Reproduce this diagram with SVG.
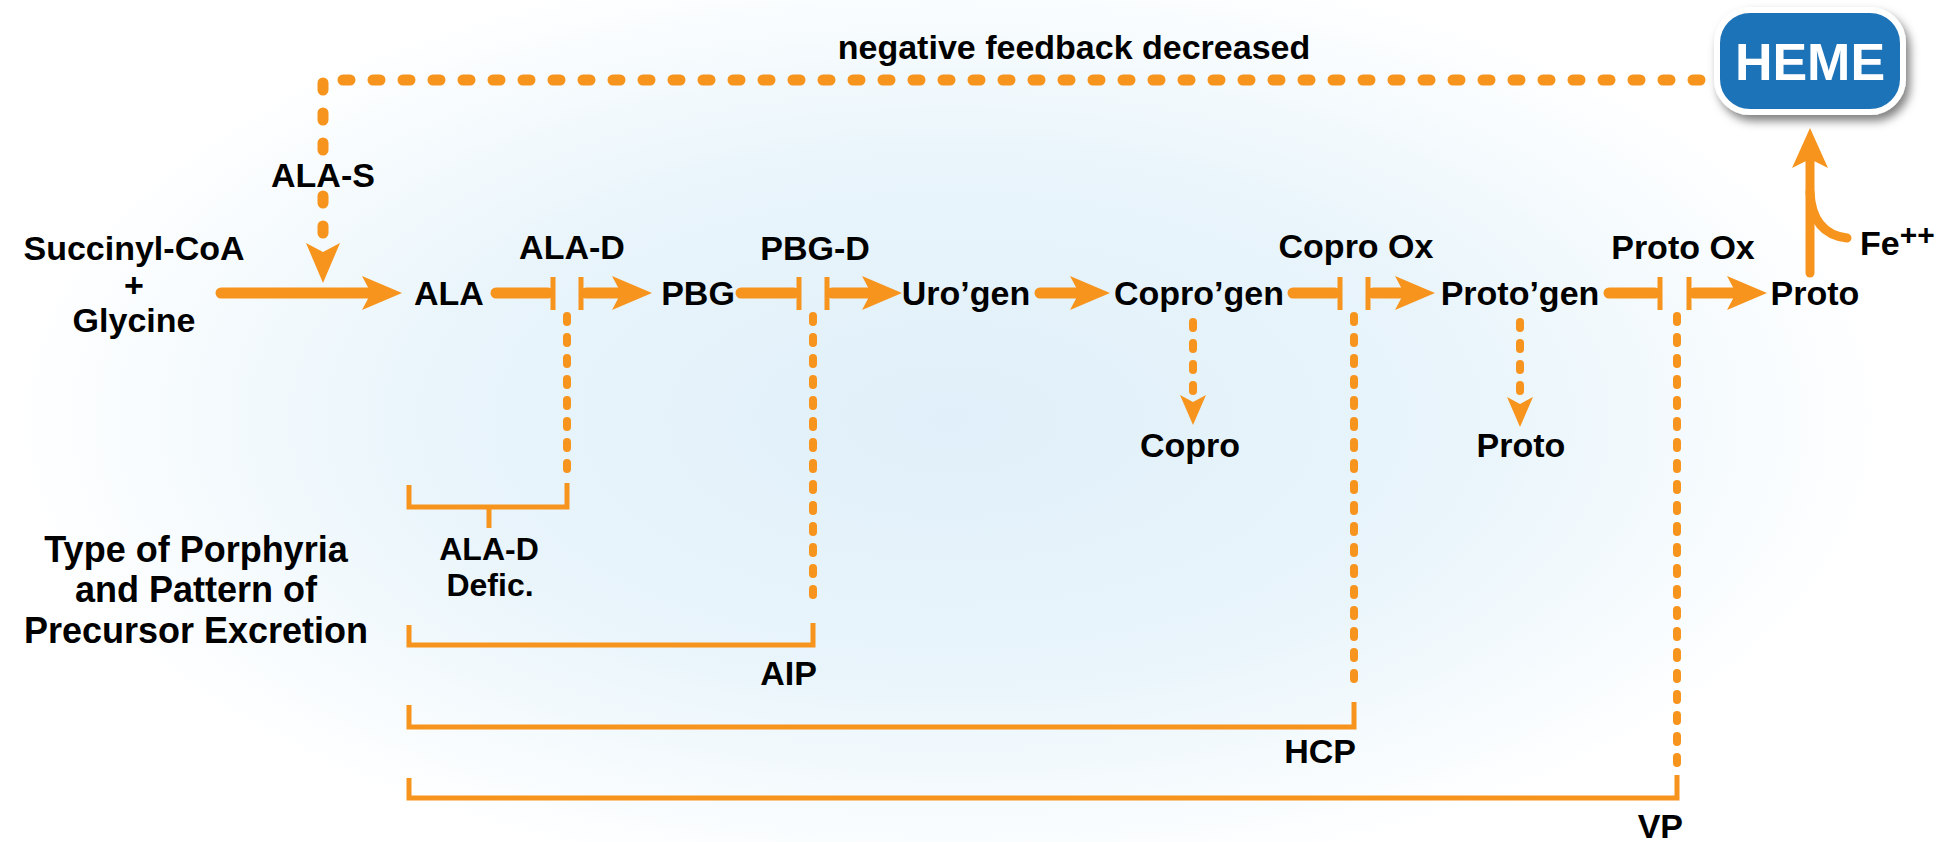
<svg xmlns="http://www.w3.org/2000/svg" xmlns:xlink="http://www.w3.org/1999/xlink" width="1942" height="842" viewBox="0 0 1942 842">
<style>
.t{font-family:"Liberation Sans",Arial,Helvetica,sans-serif;font-weight:bold;font-size:34px;fill:#000;text-anchor:middle}
.big{font-size:36px}
.sm{font-size:32px}
.end{text-anchor:end}
.o{stroke:#F7941D;fill:none}
.main{stroke-width:11;stroke-linecap:round}
.bar{stroke-width:5}
.dash{stroke-width:8;stroke-linecap:round;stroke-dasharray:6 15}
.fb{stroke-width:11;stroke-linecap:round;stroke-dasharray:7 23}
.br{stroke-width:5;stroke-linejoin:miter}
.hd{fill:#F7941D}
</style>
<defs>
<radialGradient id="bg" gradientUnits="userSpaceOnUse" cx="0" cy="0" r="950" gradientTransform="translate(950 420) scale(1 0.5)">
<stop offset="0" stop-color="#e0eff9"/>
<stop offset="0.55" stop-color="#e9f5fb"/>
<stop offset="1" stop-color="#ffffff"/>
</radialGradient>
<filter id="sh" x="-20%" y="-20%" width="150%" height="160%">
<feDropShadow dx="4" dy="6" stdDeviation="5" flood-color="#000" flood-opacity="0.5"/>
</filter>
<path id="ahR" d="M0,0 L-40,-17 L-31,0 L-40,17 Z"/>
<path id="ahD" d="M0,0 L-17,-40 L0,-31 L17,-40 Z"/>
<path id="ahDs" d="M0,0 L-13,-30 L0,-23 L13,-30 Z"/>
<path id="ahU" d="M0,0 L-18,40 L0,31 L18,40 Z"/>
</defs>
<rect x="0" y="0" width="1942" height="842" fill="url(#bg)"/>

<g id="connectors">
<path class="o fb" d="M323,150 V80 H1711"/>
<path class="o fb" d="M323,196 V240"/>
<use href="#ahD" x="323" y="283" class="hd"/>
<path class="o main" d="M221,293 H373"/>
<use href="#ahR" x="402" y="293" class="hd"/>
<path class="o main" d="M496,293 H548"/>
<path class="o bar" d="M553,277 V310"/>
<path class="o bar" d="M581,277 V310"/>
<path class="o main" d="M586,293 H623"/>
<use href="#ahR" x="652" y="293" class="hd"/>
<path class="o main" d="M741,293 H794"/>
<path class="o bar" d="M799,277 V310"/>
<path class="o bar" d="M827,277 V310"/>
<path class="o main" d="M832,293 H873"/>
<use href="#ahR" x="902" y="293" class="hd"/>
<path class="o main" d="M1040,293 H1081"/>
<use href="#ahR" x="1110" y="293" class="hd"/>
<path class="o main" d="M1293,293 H1335"/>
<path class="o bar" d="M1340,277 V310"/>
<path class="o bar" d="M1368,277 V310"/>
<path class="o main" d="M1373,293 H1406"/>
<use href="#ahR" x="1435" y="293" class="hd"/>
<path class="o main" d="M1609,293 H1655"/>
<path class="o bar" d="M1660,277 V310"/>
<path class="o bar" d="M1689,277 V310"/>
<path class="o main" d="M1694,293 H1738"/>
<use href="#ahR" x="1767" y="293" class="hd"/>
<path class="o" stroke-width="9" stroke-linecap="round" d="M1810,273 V160"/>
<use href="#ahU" x="1810" y="128" class="hd"/>
<path class="o" stroke-width="9" stroke-linecap="round" d="M1810,192 Q1812,234 1847,238"/>
<path class="o dash" d="M1193,322 V398"/>
<use href="#ahDs" x="1193" y="425" class="hd"/>
<path class="o dash" d="M1520,322 V400"/>
<use href="#ahDs" x="1520" y="427" class="hd"/>
<path class="o dash" d="M567,316 V475"/>
<path class="o dash" d="M813,316 V603"/>
<path class="o dash" d="M1354,316 V688"/>
<path class="o dash" d="M1677,316 V770"/>
<path class="o br" d="M409,485 V507 H567 V483"/>
<path class="o br" d="M489,507 V528"/>
<path class="o br" d="M409,625 V645 H813 V623"/>
<path class="o br" d="M409,705 V727 H1354 V702"/>
<path class="o br" d="M409,778 V798 H1677 V775"/>
</g>

<g id="heme">
<rect x="1717" y="10" width="186" height="102" rx="33" fill="#1F73B7" stroke="#ffffff" stroke-width="6" filter="url(#sh)"/>
<text class="t" x="1810" y="80" style="font-size:52px;fill:#fff">HEME</text>
</g>
<g id="label-feedback"><text class="t" x="1074" y="59">negative feedback decreased</text></g>
<g id="label-alas"><text class="t" x="323" y="187">ALA-S</text></g>
<g id="node-substrates">
<text class="t" x="134" y="260">Succinyl-CoA</text>
<text class="t" x="134" y="297">+</text>
<text class="t" x="134" y="332">Glycine</text>
</g>
<g id="node-ala"><text class="t" x="449" y="305">ALA</text></g>
<g id="label-alad"><text class="t" x="572" y="259">ALA-D</text></g>
<g id="node-pbg"><text class="t" x="698" y="305">PBG</text></g>
<g id="label-pbgd"><text class="t" x="815" y="260">PBG-D</text></g>
<g id="node-urogen"><text class="t" x="966" y="305">Uro’gen</text></g>
<g id="node-coprogen"><text class="t" x="1199" y="305">Copro’gen</text></g>
<g id="label-coprox"><text class="t" x="1356" y="258">Copro Ox</text></g>
<g id="node-protogen"><text class="t" x="1520" y="305">Proto’gen</text></g>
<g id="label-protox"><text class="t" x="1683" y="259">Proto Ox</text></g>
<g id="node-proto"><text class="t" x="1815" y="305">Proto</text></g>
<g id="label-fe"><text class="t" x="1860" y="255" style="text-anchor:start">Fe<tspan dy="-10" style="font-size:30px">++</tspan></text></g>
<g id="node-copro"><text class="t" x="1190" y="457">Copro</text></g>
<g id="node-proto2"><text class="t" x="1521" y="457">Proto</text></g>
<g id="label-type">
<text class="t big" x="196" y="562">Type of Porphyria</text>
<text class="t big" x="196" y="602">and Pattern of</text>
<text class="t big" x="196" y="643">Precursor Excretion</text>
</g>
<g id="label-aladdef">
<text class="t sm" x="489" y="560">ALA-D</text>
<text class="t sm" x="490" y="596">Defic.</text>
</g>
<g id="label-aip"><text class="t end" x="817" y="685">AIP</text></g>
<g id="label-hcp"><text class="t end" x="1356" y="763">HCP</text></g>
<g id="label-vp"><text class="t end" x="1683" y="838">VP</text></g>
</svg>
